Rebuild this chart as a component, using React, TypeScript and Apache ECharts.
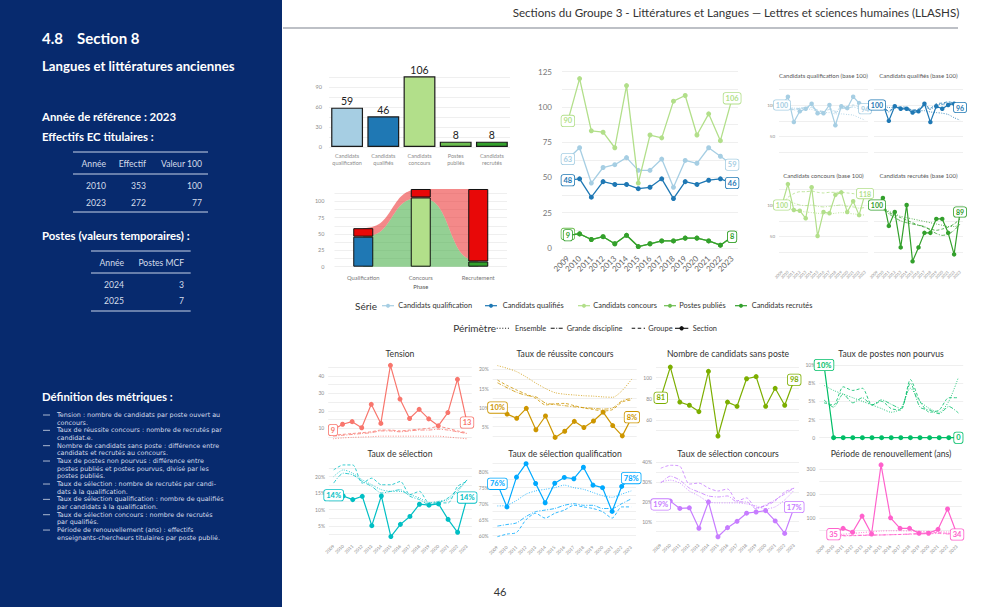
import React, { useEffect, useRef } from "react";
import * as echarts from "echarts";

const FONT = "Lato, 'Noto Sans', 'DejaVu Sans', sans-serif";
const DEF_FONT = "'DejaVu Sans', 'Noto Sans', sans-serif";
const GRID = "#ebebeb";
const AXT = "#8c8c8c";
const NAVY = "#072a6e";

const years = ["2009","2010","2011","2012","2013","2014","2015","2016","2017","2018","2019","2020","2021","2022","2023"];

// ---- left panel tables ----
const effYears = ["2010", "2023"];
const effValues = [353, 272];
const effIndex = [100, 77];
const postYears = ["2024", "2025"];
const postMCF = [3, 7];
const definitions = [
  ["Tension : nombre de candidats par poste ouvert au", "concours."],
  ["Taux de réussite concours : nombre de recrutés par", "candidat.e."],
  ["Nombre de candidats sans poste : différence entre", "candidats et recrutés au concours."],
  ["Taux de postes non pourvus : différence entre", "postes publiés et postes pourvus, divisé par les", "postes publiés."],
  ["Taux de sélection : nombre de recrutés par candi-", "dats à la qualification."],
  ["Taux de sélection qualification : nombre de qualifiés", "par candidats à la qualification."],
  ["Taux de sélection concours : nombre de recrutés", "par qualifiés."],
  ["Période de renouvellement (ans) : effectifs", "enseignants-chercheurs titulaires par poste publié."],
];

// ---- series ----
const serieNames = ["Candidats qualification", "Candidats qualifiés", "Candidats concours", "Postes publiés", "Candidats recrutés"];
const serieColors = ["#a6cee3", "#1f78b4", "#b2df8a", "#6cbd50", "#33a02c"];
const perimetres = ["Ensemble", "Grande discipline", "Groupe", "Section"];

// bar chart (2023)
const barCats = ["Candidats\nqualification", "Candidats\nqualifiés", "Candidats\nconcours", "Postes\npubliés", "Candidats\nrecrutés"];
const barValues = [59, 46, 106, 8, 8];
const barTicks = [0, 30, 60, 90];

// flow chart
const flowPhases = ["Qualification", "Concours", "Recrutement"];
const flowKept = [46, 106, 8];
const flowLost = [13, 13, 111];
const flowColors = ["#1f78b4", "#b2df8a", "#33a02c"];
const flowTicks = [0, 25, 50, 75, 100];

// main time series
const candQualif = [63, 71, 46, 57, 59, 64, 55, 55, 63, 43, 62, 60, 71, 65, 59];
const candQualifies = [48, 49, 36, 47, 45, 45, 42, 43, 49, 35, 47, 45, 48, 49, 46];
const candConcours = [90, 120, 83, 82, 71, 115, 46, 80, 78, 104, 108, 80, 95, 76, 106];
const postesPublies = [10, 10, 6, 8, 3, 9, 1, 3, 5, 5, 7, 7, 5, 2, 8];
const candRecrutes = [9, 10, 6, 8, 3, 9, 1, 3, 5, 5, 7, 7, 5, 2, 8];
const mainTicks = [0, 25, 50, 75, 100, 125];

// base 100 small multiples
const qualifIdx = [100, 113, 73, 90, 94, 102, 87, 87, 100, 68, 98, 95, 113, 103, 94];
const qualifEns = [100, 98, 95, 95, 94, 93, 90, 88, 88, 86, 86, 85, 84, 80, 76];
const qualifGD = [100, 96, 92, 94, 95, 96, 91, 89, 93, 88, 94, 95, 97, 94, 90];
const qualifGrp = [100, 97, 93, 95, 96, 97, 92, 90, 95, 90, 97, 98, 100, 97, 93];
const qualifiesIdx = [100, 102, 75, 98, 94, 94, 88, 90, 102, 73, 98, 94, 100, 102, 96];
const qualifiesEns = [100, 99, 96, 96, 95, 94, 92, 91, 91, 89, 88, 87, 85, 80, 76];
const qualifiesGD = [100, 97, 89, 96, 95, 94, 91, 92, 98, 93, 100, 101, 103, 101, 98];
const qualifiesGrp = [100, 98, 90, 97, 97, 96, 92, 94, 100, 95, 102, 103, 105, 103, 100];
const concoursIdx = [100, 133, 92, 91, 79, 128, 51, 89, 87, 116, 120, 89, 106, 84, 118];
const concoursEns = [100, 95, 92, 90, 89, 88, 87, 86, 86, 87, 88, 87, 86, 85, 84];
const concoursGD = [100, 105, 103, 100, 99, 100, 98, 97, 98, 99, 100, 98, 97, 95, 96];
const concoursGrp = [100, 112, 118, 121, 121, 122, 120, 119, 120, 120, 120, 119, 118, 116, 116];
const recrutesIdx = [100, 111, 67, 89, 33, 100, 11, 33, 56, 56, 78, 78, 56, 22, 89];
const recrutesEns = [100, 96, 90, 86, 82, 80, 78, 76, 74, 72, 70, 68, 66, 66, 68];
const recrutesGD = [100, 93, 86, 80, 75, 72, 70, 68, 66, 60, 55, 52, 54, 60, 70];
const recrutesGrp = [100, 95, 88, 84, 80, 76, 72, 68, 65, 62, 60, 62, 65, 70, 78];
const baseTicks = [50, 100];

// metrics
const tension = [9, 12.3, 13.8, 10.3, 23.7, 12.8, 46, 26.7, 15.6, 20.8, 15.4, 11.4, 19, 38, 13.3];
const tensionEns = [4, 4.5, 4.8, 5, 5.2, 5.5, 5.5, 5.5, 5.5, 5.5, 5.5, 5.5, 5, 4.5, 4];
const tensionGD = [5.5, 6, 6.5, 7, 7.5, 8.5, 8.5, 8, 8.5, 9, 9, 9.5, 9, 8, 7];
const tensionGrp = [6, 6.5, 7, 7.5, 8, 9, 9, 8.5, 9, 9.5, 10, 11, 10, 8.5, 7.5];
const tensionTicks = [10, 20, 30, 40];

const reussite = [10, 8.3, 7.2, 9.8, 4.2, 7.8, 2.2, 3.8, 6.4, 4.8, 6.5, 8.8, 5.3, 2.6, 7.5];
const reussiteEns = [21, 20.3, 19.4, 18, 16.4, 15, 13.9, 13.5, 13.3, 13.1, 13, 12.8, 12.7, 14.5, 17.5];
const reussiteGD = [16.5, 15.2, 14, 13.2, 12.8, 11.2, 10.8, 10.5, 10.2, 10, 9.8, 9.6, 9.9, 11.8, 12.4];
const reussiteGrp = [17.2, 15.8, 14.6, 13.5, 12.4, 10.7, 11, 11.1, 10.5, 9.9, 9.5, 9.1, 9.5, 11.5, 12];
const reussiteTicks = [5, 10, 15, 20];

const sansPoste = [81, 110, 77, 74, 68, 106, 45, 77, 73, 99, 101, 73, 90, 74, 98];
const sansPosteTicks = [60, 80, 100];

const nonPourvus = [10, 0, 0, 0, 0, 0, 0, 0, 0, 0, 0, 0, 0, 0, 0];
const nonPourvusEns = [7.2, 6.5, 6, 5.5, 5, 4.5, 4, 3.5, 4, 6.8, 5, 4, 3.5, 5, 8.3];
const nonPourvusGD = [5.2, 4.2, 6, 4.8, 5.5, 4.5, 5.2, 4.6, 4, 7.5, 4.2, 3.8, 3.3, 4.3, 3.4];
const nonPourvusGrp = [4.8, 4.5, 7, 6.5, 6.8, 4.5, 5, 4, 3.8, 8, 5, 3.5, 3.8, 5.5, 5.5];
const nonPourvusTicks = [0, 2.5, 5, 7.5, 10];
const nonPourvusTickLabels = ["0", "2%", "5%", "8%", "10%"];

const selection = [14.3, 14.1, 13, 14, 5.1, 14.1, 1.8, 5.5, 7.9, 11.6, 11.3, 11.7, 7, 3.1, 13.6];
const selectionEns = [20, 22, 21, 19, 17.5, 16, 15.5, 15.5, 14.5, 13.5, 12, 12.5, 13, 15.5, 19];
const selectionGD = [18, 21, 20.5, 18.5, 17, 15, 15.5, 16, 14, 13, 11.5, 12, 13.5, 16, 19];
const selectionGrp = [22, 23.5, 23.5, 18, 19.5, 17.5, 17.5, 18.5, 14.5, 15.5, 12, 12, 12, 17, 18.5];
const selectionTicks = [5, 10, 15, 20];

const selQual = [76.2, 69, 78.3, 82.5, 76.3, 70.3, 76.4, 78.2, 77.8, 81.4, 75.8, 75, 67.6, 75.4, 78];
const selQualEns = [69.3, 69.5, 71, 73, 74, 74.5, 75, 75.8, 75, 74.5, 73.5, 72.5, 72, 73, 74];
const selQualGD = [63, 63.5, 64, 66, 67.5, 68, 68.5, 69.5, 70, 69.5, 69.5, 68.5, 68.5, 70, 71.5];
const selQualGrp = [59.7, 60.5, 61, 65, 67, 65.5, 67, 68, 69.5, 69, 68.5, 67.5, 65.5, 69, 69];
const selQualTicks = [60, 65, 70, 75, 80];

const selConc = [18.75, 20.4, 16.7, 17, 6.7, 20, 2.4, 7, 10.2, 14.3, 14.9, 15.6, 10.4, 4.1, 17.4];
const selConcEns = [30, 31, 29.5, 25.5, 23, 20, 19.5, 19.5, 19.5, 19, 18, 16.5, 17.5, 21, 26];
const selConcGD = [29.5, 33, 31, 27, 25, 23, 22.5, 23, 20, 20, 16.5, 18.5, 21, 24, 27];
const selConcGrp = [37, 38.5, 38, 29, 29.5, 27, 25.5, 26.5, 20.5, 22, 17, 18, 20.5, 25, 27];
const selConcTicks = [10, 20, 30, 40];

const renouv = [null, 35.3, 59, 43, 109, 36, 318, 102, 59, 59, 39, 39, 55, 138, 34];
const renouvEns = [null, 33, 35, 38, 42, 45, 48, 49, 49, 48, 47, 46, 45, 44, 42];
const renouvGD = [null, 28, 30, 30, 31, 32, 32, 33, 34, 35, 36, 37, 38, 36, 34];
const renouvGrp = [null, 30, 28, 29, 30, 31, 32, 33, 34, 36, 38, 40, 42, 38, 36];
const renouvTicks = [100, 200, 300];

// ---------------------------------------------------------------
type Box = { left: number; width: number; v0: number; y0: number; ppu: number; min: number; max: number; step: number };

const pct = (v: number) => Math.round(v) + "%";
const num = (v: number) => String(Math.round(v));
const DASH = { grp: [3, 2], gd: [4, 1.5, 1, 1.5], ens: [1, 1.5] } as any;

function endLabelled(values: (number | null)[], color: string, fs: number, fmt: (v: number) => string) {
  const idx = values.map((v, i) => (v == null ? -1 : i)).filter((i) => i >= 0);
  const first = idx[0];
  const last = idx[idx.length - 1];
  return values.map((v, i) =>
    i === first || i === last
      ? {
          value: v,
          label: {
            show: true,
            position: "inside",
            formatter: fmt(v as number),
            color,
            fontSize: fs,
            fontFamily: FONT,
            fontWeight: "bold",
            backgroundColor: "#ffffff",
            borderColor: color,
            borderWidth: 0.8,
            borderRadius: 2,
            padding: [1.5, 2, 1, 2],
          },
        }
      : v
  );
}

function buildOption() {
  const grids: any[] = [];
  const xAxes: any[] = [];
  const yAxes: any[] = [];
  const series: any[] = [];
  const graphics: any[] = [];

  const T = (x: number, y: number, text: string, size: number, o: any = {}) => ({
    type: "text",
    x,
    y,
    silent: true,
    z: 100,
    style: {
      text,
      fill: o.color || "#ffffff",
      fontSize: size,
      fontFamily: o.font || FONT,
      fontWeight: o.bold ? "bold" : "normal",
      align: o.align || "left",
      textAlign: o.align || "left",
      verticalAlign: "middle",
      textVerticalAlign: "middle",
    },
  });
  const L = (x1: number, y1: number, x2: number, y2: number, color: string, w: number, dash?: number[]) => ({
    type: "line",
    silent: true,
    z: 100,
    shape: { x1, y1, x2, y2 },
    style: { stroke: color, lineWidth: w, lineDash: dash || null },
  });

  function addGrid(b: Box, cats: string[], o: any) {
    const gi = grids.length;
    grids.push({
      left: b.left,
      width: b.width,
      top: b.y0 - (b.max - b.v0) * b.ppu,
      height: (b.max - b.min) * b.ppu,
      outerBoundsMode: "none",
      containLabel: false,
    });
    xAxes.push({
      type: "category",
      gridIndex: gi,
      data: cats,
      boundaryGap: true,
      axisLine: { show: false },
      axisTick: { show: false },
      splitLine: { show: false },
      name: o.xName || "",
      nameLocation: "middle",
      nameGap: o.xNameGap || 15,
      nameTextStyle: { fontSize: o.xFont || 5, color: "#555", fontFamily: FONT },
      axisLabel: {
        show: !!o.showX,
        interval: 0,
        rotate: o.rotate || 0,
        fontSize: o.xFont || 5,
        lineHeight: o.xLineHeight || undefined,
        color: o.xColor || AXT,
        fontFamily: FONT,
        margin: o.xMargin == null ? 4 : o.xMargin,
      },
    });
    const ticks: number[] = o.ticks || [];
    const tl: string[] = o.tickLabels || ticks.map(o.fmt || num);
    yAxes.push({
      type: "value",
      gridIndex: gi,
      min: b.min,
      max: b.max,
      interval: b.step,
      axisLine: { show: false },
      axisTick: { show: false },
      axisLabel: {
        show: o.showY !== false,
        fontSize: o.yFont || 5,
        color: o.yColor || AXT,
        fontFamily: FONT,
        margin: o.yMargin || 4,
        formatter: (v: number) => {
          const k = ticks.findIndex((t) => Math.abs(t - v) < 1e-6);
          return k >= 0 ? tl[k] : "";
        },
      },
      splitLine: {
        show: true,
        showMinLine: !!o.showMin,
        showMaxLine: false,
        lineStyle: { color: GRID, width: 0.8 },
      },
    });
    return gi;
  }

  const sectionLine = (gi: number, values: (number | null)[], color: string, sym: number, lw: number, fs: number, fmt: (v: number) => string, z = 10) => ({
    type: "line",
    xAxisIndex: gi,
    yAxisIndex: gi,
    silent: true,
    z,
    data: endLabelled(values, color, fs, fmt),
    symbol: "circle",
    symbolSize: sym,
    showSymbol: true,
    showAllSymbol: true,
    lineStyle: { color, width: lw },
    itemStyle: { color },
    emphasis: { disabled: true },
  });
  const refLine = (gi: number, values: (number | null)[], color: string, dash: number[], lw: number) => ({
    type: "line",
    xAxisIndex: gi,
    yAxisIndex: gi,
    silent: true,
    z: 4,
    data: values,
    symbol: "none",
    smooth: 0.25,
    lineStyle: { color, width: lw, type: dash, opacity: 0.9 },
    emphasis: { disabled: true },
  });

  // ---------------- A: bar chart ----------------
  const gA = addGrid({ left: 329, width: 181, v0: 0, y0: 147, ppu: 0.667, min: 0, max: 120, step: 15 }, barCats, {
    showX: true, xFont: 5.5, xLineHeight: 6.5, xMargin: 6, ticks: barTicks, yFont: 5.5, yMargin: 7, showMin: true,
  });
  series.push({
    type: "bar",
    xAxisIndex: gA,
    yAxisIndex: gA,
    silent: true,
    barWidth: "88%",
    data: barValues.map((v, i) => ({ value: v, itemStyle: { color: serieColors[i] } })),
    itemStyle: { borderColor: "#1a1a1a", borderWidth: 1.2 },
    label: { show: true, position: "top", distance: 1, fontSize: 10.5, color: "#222", fontFamily: FONT },
  });

  // ---------------- B: flow chart ----------------
  const gB = addGrid({ left: 334.5, width: 172.5, v0: 0, y0: 266.7, ppu: 0.653, min: 0, max: 125, step: 12.5 }, flowPhases, {
    showX: true, xFont: 5.8, xMargin: 8, xColor: "#777", ticks: flowTicks, yFont: 5.5, yMargin: 10, showMin: true,
    xName: "Phase", xNameGap: 17,
  });
  const flowData = flowPhases.slice(0, -1).map((_, i) => [i, flowKept[i], flowKept[i] + flowLost[i], flowKept[i + 1], flowKept[i + 1] + flowLost[i + 1]]);
  series.push({
    type: "custom",
    xAxisIndex: gB,
    yAxisIndex: gB,
    silent: true,
    z: 1,
    encode: { x: 0, y: 1 },
    data: flowData,
    renderItem: (params: any, api: any) => {
      const i = api.value(0);
      const g0 = api.value(1), t0 = api.value(2), g1 = api.value(3), t1 = api.value(4);
      const xa = api.coord([i, 0])[0];
      const xb = api.coord([i + 1, 0])[0];
      const yy = (v: number) => api.coord([i, v])[1];
      const k = 9;
      const lg = (t: number) => 1 / (1 + Math.exp(-k * (t - 0.5)));
      const s = (t: number) => (lg(t) - lg(0)) / (lg(1) - lg(0));
      const gTop: number[][] = [];
      const rTop: number[][] = [];
      const N = 40;
      for (let j = 0; j <= N; j++) {
        const t = j / N;
        const x = xa + (xb - xa) * t;
        const ss = s(t);
        gTop.push([x, yy(g0 + (g1 - g0) * ss)]);
        rTop.push([x, yy(t0 + (t1 - t0) * ss)]);
      }
      const base = yy(0);
      return {
        type: "group",
        children: [
          { type: "polygon", shape: { points: [...gTop, [xb, base], [xa, base]] }, style: { fill: "rgba(60,170,60,0.55)" } },
          { type: "polygon", shape: { points: [...rTop, ...gTop.slice().reverse()] }, style: { fill: "rgba(235,40,40,0.55)" } },
        ],
      };
    },
  });
  series.push({
    type: "bar", xAxisIndex: gB, yAxisIndex: gB, silent: true, stack: "flow", z: 3, barWidth: 20,
    data: flowKept.map((v, i) => ({ value: v, itemStyle: { color: flowColors[i] } })),
    itemStyle: { borderColor: "#111", borderWidth: 1 },
  });
  series.push({
    type: "bar", xAxisIndex: gB, yAxisIndex: gB, silent: true, stack: "flow", z: 3, barWidth: 20,
    data: flowLost,
    itemStyle: { color: "#e80808", borderColor: "#111", borderWidth: 1 },
  });

  // ---------------- C: main line chart ----------------
  const gC = addGrid({ left: 562, width: 176, v0: 0, y0: 248, ppu: 1.412, min: 0, max: 137.5, step: 12.5 }, years, {
    showX: true, rotate: 45, xFont: 8, xColor: "#666", xMargin: 9, ticks: mainTicks, yFont: 8, yColor: "#777", yMargin: 10, showMin: true,
  });
  const mainSeries = [candQualif, candQualifies, candConcours, postesPublies, candRecrutes];
  mainSeries.forEach((vals, i) => {
    series.push(sectionLine(gC, vals, serieColors[i], 5, 1.3, 7.5, num, 10 + i));
  });

  // ---------------- D: base 100 small multiples ----------------
  const dPanels = [
    { title: "Candidats qualification (base 100)", left: 779, y0: 105, color: serieColors[0], s: qualifIdx, e: qualifEns, g: qualifGD, p: qualifGrp, showY: true, showX: false },
    { title: "Candidats qualifiés (base 100)", left: 874, y0: 105, color: serieColors[1], s: qualifiesIdx, e: qualifiesEns, g: qualifiesGD, p: qualifiesGrp, showY: false, showX: false },
    { title: "Candidats concours (base 100)", left: 779, y0: 205, color: serieColors[2], s: concoursIdx, e: concoursEns, g: concoursGD, p: concoursGrp, showY: true, showX: true },
    { title: "Candidats recrutés (base 100)", left: 874, y0: 205, color: serieColors[4], s: recrutesIdx, e: recrutesEns, g: recrutesGD, p: recrutesGrp, showY: false, showX: true },
  ];
  dPanels.forEach((d) => {
    const gi = addGrid({ left: d.left, width: 89, v0: 100, y0: d.y0, ppu: 0.633, min: 0, max: 150, step: 25 }, years, {
      showX: d.showX, rotate: 45, xFont: 4, xMargin: 3, ticks: baseTicks, showY: d.showY, yFont: 4.5, yMargin: 4,
    });
    series.push(refLine(gi, d.e, d.color, DASH.ens, 0.9));
    series.push(refLine(gi, d.g, d.color, DASH.gd, 0.9));
    series.push(refLine(gi, d.p, d.color, DASH.grp, 0.9));
    series.push(sectionLine(gi, d.s, d.color, 4.5, 1.2, 7, num));
    graphics.push(T(d.left + 44.5, d.y0 - 29.3, d.title, 6, { color: "#555", align: "center" }));
  });

  // ---------------- E: metrics panels ----------------
  const ePanels = [
    { title: "Tension", color: "#F8766D", box: { left: 328.2, width: 143.6, v0: 0, y0: 445.8, ppu: 1.75, min: 0, max: 50, step: 5 }, s: tension, refs: [tensionEns, tensionGD, tensionGrp], ticks: tensionTicks, fmt: num, lab: num, row: 0, cx: 400 },
    { title: "Taux de réussite concours", color: "#CD9600", box: { left: 492.7, width: 144, v0: 0, y0: 445.8, ppu: 3.82, min: 0, max: 22.5, step: 2.5 }, s: reussite, refs: [reussiteEns, reussiteGD, reussiteGrp], ticks: reussiteTicks, fmt: pct, lab: pct, row: 0, cx: 565 },
    { title: "Nombre de candidats sans poste", color: "#7CAE00", box: { left: 656, width: 143, v0: 100, y0: 377.7, ppu: 1.06, min: 40, max: 120, step: 10 }, s: sansPoste, refs: [], ticks: sansPosteTicks, fmt: num, lab: num, row: 0, cx: 728 },
    { title: "Taux de postes non pourvus", color: "#00BE67", box: { left: 819.2, width: 144, v0: 0, y0: 437.7, ppu: 7.27, min: -2.5, max: 12.5, step: 2.5 }, s: nonPourvus, refs: [nonPourvusEns, nonPourvusGD, nonPourvusGrp], ticks: nonPourvusTicks, tickLabels: nonPourvusTickLabels, fmt: pct, lab: (v: number) => (v === 0 ? "0" : pct(v)), row: 0, cx: 891 },
    { title: "Taux de sélection", color: "#00BFC4", box: { left: 328.9, width: 143, v0: 0, y0: 542.5, ppu: 3.3, min: 0, max: 25, step: 2.5 }, s: selection, refs: [selectionEns, selectionGD, selectionGrp], ticks: selectionTicks, fmt: pct, lab: pct, row: 1, cx: 400 },
    { title: "Taux de sélection qualification", color: "#00A9FF", box: { left: 492.6, width: 143.4, v0: 80, y0: 471.7, ppu: 3.2, min: 57.5, max: 85, step: 2.5 }, s: selQual, refs: [selQualEns, selQualGD, selQualGrp], ticks: selQualTicks, fmt: pct, lab: pct, row: 1, cx: 565 },
    { title: "Taux de sélection concours", color: "#C77CFF", box: { left: 656, width: 143, v0: 0, y0: 541.5, ppu: 1.98, min: 0, max: 45, step: 5 }, s: selConc, refs: [selConcEns, selConcGD, selConcGrp], ticks: selConcTicks, fmt: pct, lab: pct, row: 1, cx: 728 },
    { title: "Période de renouvellement (ans)", color: "#FF61CC", box: { left: 819.3, width: 142.5, v0: 0, y0: 542.8, ppu: 0.245, min: 0, max: 350, step: 50 }, s: renouv, refs: [renouvEns, renouvGD, renouvGrp], ticks: renouvTicks, fmt: num, lab: num, row: 1, cx: 891 },
  ];
  const refDash = [DASH.ens, DASH.gd, DASH.grp];
  ePanels.forEach((p: any) => {
    const gi = addGrid(p.box, years, {
      showX: p.row === 1, rotate: 45, xFont: 4.5, xMargin: 3, ticks: p.ticks, tickLabels: p.tickLabels, fmt: p.fmt, yFont: 5, yMargin: 4,
    });
    p.refs.forEach((r: any, k: number) => series.push(refLine(gi, r, p.color, refDash[k], 0.9)));
    series.push(sectionLine(gi, p.s, p.color, 5, 1.2, 7.5, p.lab));
    graphics.push(T(p.cx, p.row === 0 ? 354.3 : 453.5, p.title, 8.6, { color: "#333", align: "center" }));
  });

  // ---------------- page decorations ----------------
  graphics.push({ type: "rect", silent: true, z: 0, shape: { x: 0, y: 0, width: 282, height: 607 }, style: { fill: NAVY } });
  graphics.push(T(736, 12, "Sections du Groupe 3 - Littératures et Langues — Lettres et sciences humaines (LLASHS)", 11.6, { color: "#333", align: "center" }));
  graphics.push(L(283, 28, 958, 28, "#a7abb3", 1.5));
  graphics.push(T(500, 591, "46", 11, { color: "#333", align: "center" }));

  // left panel
  const W = "#ffffff";
  const TC = "#d6ddeb";
  const TS = 8.6;
  graphics.push(T(42, 38, "4.8", 15, { bold: true, color: W }));
  graphics.push(T(77, 38, "Section 8", 15, { bold: true, color: W }));
  graphics.push(T(42, 66, "Langues et littératures anciennes", 13.2, { bold: true, color: W }));
  graphics.push(T(42, 116, "Année de référence : 2023", 11.4, { bold: true, color: W }));
  graphics.push(T(42, 136, "Effectifs EC titulaires :", 11.4, { bold: true, color: W }));
  graphics.push(L(73, 152, 208, 152, "#c9d3e8", 1));
  graphics.push(L(73, 174, 208, 174, "#c9d3e8", 1));
  graphics.push(L(73, 212, 208, 212, "#c9d3e8", 1));
  graphics.push(T(106, 164, "Année", TS, { color: TC, align: "right" }));
  graphics.push(T(146, 164, "Effectif", TS, { color: TC, align: "right" }));
  graphics.push(T(202, 164, "Valeur 100", TS, { color: TC, align: "right" }));
  effYears.forEach((y, i) => {
    const yy = 185.7 + i * 17;
    graphics.push(T(106, yy, y, TS, { color: TC, align: "right" }));
    graphics.push(T(146, yy, String(effValues[i]), TS, { color: TC, align: "right" }));
    graphics.push(T(202, yy, String(effIndex[i]), TS, { color: TC, align: "right" }));
  });
  graphics.push(T(42, 235, "Postes (valeurs temporaires) :", 11.4, { bold: true, color: W }));
  graphics.push(L(91, 251, 190.7, 251, "#c9d3e8", 1));
  graphics.push(L(91, 273, 190.7, 273, "#c9d3e8", 1));
  graphics.push(L(91, 311, 190.7, 311, "#c9d3e8", 1));
  graphics.push(T(124, 263.3, "Année", TS, { color: TC, align: "right" }));
  graphics.push(T(184, 263.3, "Postes MCF", TS, { color: TC, align: "right" }));
  postYears.forEach((y, i) => {
    const yy = 285 + i * 16;
    graphics.push(T(124, yy, y, TS, { color: TC, align: "right" }));
    graphics.push(T(184, yy, String(postMCF[i]), TS, { color: TC, align: "right" }));
  });
  graphics.push(T(42, 396, "Définition des métriques :", 11.4, { bold: true, color: W }));
  let line = 0;
  definitions.forEach((def) => {
    def.forEach((txt, j) => {
      const yy = 415 + line * 7.67;
      if (j === 0) graphics.push(L(43, yy, 50, yy, TC, 0.8));
      graphics.push(T(57, yy, txt, 6.4, { color: TC, font: DEF_FONT }));
      line++;
    });
  });

  // legend
  const LG = "#333";
  graphics.push(T(355, 305.7, "Série", 10, { color: LG }));
  const serieIcon = [388, 491, 584, 670, 741];
  const serieText = [398.3, 502.7, 593.3, 679.3, 751.7];
  serieNames.forEach((n, i) => {
    graphics.push(L(serieIcon[i] - 6, 305.7, serieIcon[i] + 6, 305.7, serieColors[i], 1.2));
    graphics.push({ type: "circle", silent: true, z: 101, shape: { cx: serieIcon[i], cy: 305.7, r: 2 }, style: { fill: serieColors[i] } });
    graphics.push(T(serieText[i], 305.7, n, 7.4, { color: LG }));
  });
  graphics.push(T(453.3, 328.3, "Périmètre", 10, { color: LG }));
  const perIcon = [[496.7, 510], [550.7, 563.3], [631.7, 645], [675, 688.3]];
  const perText = [515, 566.7, 648.3, 692.7];
  const perDash = [[1, 1.8], [4, 1.5, 1, 1.5], [3.5, 2.5], null];
  perimetres.forEach((n, i) => {
    graphics.push(L(perIcon[i][0], 328.3, perIcon[i][1], 328.3, "#111", 1.1, perDash[i] as any));
    if (i === 3) graphics.push({ type: "circle", silent: true, z: 101, shape: { cx: (perIcon[i][0] + perIcon[i][1]) / 2, cy: 328.3, r: 2.2 }, style: { fill: "#111" } });
    graphics.push(T(perText[i], 328.3, n, 7.4, { color: LG }));
  });

  return {
    animation: false,
    backgroundColor: "#ffffff",
    textStyle: { fontFamily: FONT },
    grid: grids,
    xAxis: xAxes,
    yAxis: yAxes,
    series,
    graphic: { elements: graphics },
  };
}

export default function App() {
  const ref = useRef<HTMLDivElement>(null);
  useEffect(() => {
    if (!ref.current) return;
    const chart = echarts.init(ref.current, null, { renderer: "svg" });
    chart.setOption(buildOption() as any);
    return () => chart.dispose();
  }, []);
  return <div ref={ref} style={{ position: "fixed", left: 0, top: 0, width: 1000, height: 607, background: "#fff" }} />;
}
